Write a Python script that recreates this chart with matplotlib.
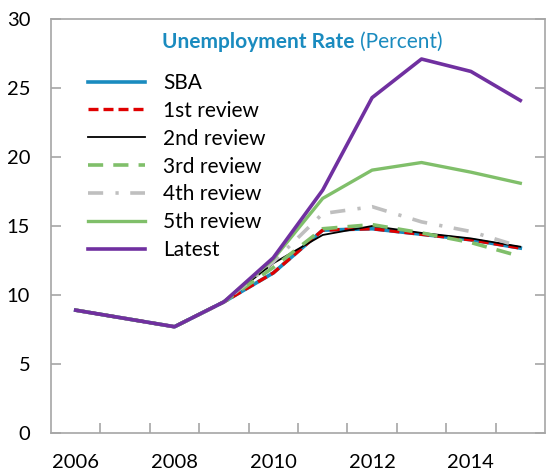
import matplotlib
matplotlib.use("Agg")
import matplotlib.pyplot as plt
import numpy as np

years = [2006, 2007, 2008, 2009, 2010, 2011, 2012, 2013, 2014, 2015]
sba = [8.9, 8.3, 7.7, 9.5, 11.6, 14.7, 14.8, 14.4, 14.0, 13.4]
rev1 = [8.9, 8.3, 7.7, 9.5, 11.6, 14.7, 14.8, 14.4, 14.0, 13.4]
rev2 = [8.9, 8.3, 7.7, 9.5, 12.3, 14.35, 15.0, 14.5, 14.1, 13.5]
rev3 = [8.9, 8.3, 7.7, 9.5, 12.0, 14.8, 15.1, 14.5, 13.8, 12.8]
rev4 = [8.9, 8.3, 7.7, 9.5, 12.4, 15.9, 16.4, 15.3, 14.6, 13.5]
rev5 = [8.9, 8.3, 7.7, 9.5, 12.6, 17.0, 19.05, 19.6, 18.9, 18.1]
latest = [8.9, 8.3, 7.7, 9.5, 12.7, 17.6, 24.3, 27.1, 26.2, 24.1]

plt.rcParams['font.family'] = ['Lato', 'DejaVu Sans']

fig = plt.figure(figsize=(5.46, 4.71), dpi=100)
ax = fig.add_axes([51 / 546, 1 - 433 / 471, 494 / 546, 414 / 471])

ax.plot(years, sba, color='#1a8bbf', lw=2.6, label='SBA')
ax.plot(years, rev1, color='#e00000', lw=2.4, ls=(0, (3, 1.5)), label='1st review')
ax.plot(years, rev2, color='black', lw=1.3, label='2nd review')
ax.plot(years, rev3, color='#80bf6a', lw=2.6, ls=(0, (4.2, 2.8)), label='3rd review')
ax.plot(years, rev4, color='#bfbfbf', lw=2.6, ls=(0, (4.2, 3.4, 0.9, 3.2)), label='4th review')
ax.plot(years, rev5, color='#80bf6a', lw=2.4, label='5th review')
ax.plot(years, latest, color='#7030a0', lw=2.6, label='Latest')

ax.set_xlim(2005.5, 2015.5)
ax.set_ylim(0, 30)
ax.set_yticks(np.arange(0, 31, 5))
ax.set_xticks(np.arange(2006.5, 2015.5, 1), minor=False)
ax.set_xticklabels([])
ax.tick_params(axis='x', direction='in', length=7, color='#a6a6a6', width=1.2)
ax.tick_params(axis='y', direction='in', length=7, color='#a6a6a6', width=1.2,
               labelsize=14.5, right=True, pad=15)
for lab_year in [2006, 2008, 2010, 2012, 2014]:
    ax.text(lab_year, -1.5, str(lab_year), ha='center', va='top', fontsize=14.5)

for sp in ax.spines.values():
    sp.set_color('#a6a6a6')
    sp.set_linewidth(1.2)

leg = ax.legend(loc='upper left', bbox_to_anchor=(0.075, 0.87), frameon=False,
                fontsize=15, handlelength=2.75, handletextpad=0.85,
                labelspacing=0.38, borderaxespad=0, borderpad=0)

fig.text(355 / 546, 1 - 42 / 471, 'Unemployment Rate', ha='right', va='center',
         fontsize=15, fontweight='bold', color='#1a8bbf')
fig.text(360 / 546, 1 - 42 / 471, '(Percent)', ha='left', va='center',
         fontsize=15, color='#1a8bbf')

fig.savefig('out.png', dpi=100)
